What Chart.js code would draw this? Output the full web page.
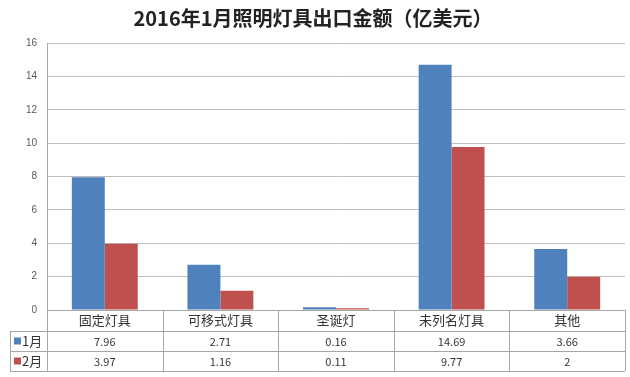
<!DOCTYPE html>
<html>
<head>
<meta charset="utf-8">
<script src="https://cdn.jsdelivr.net/npm/chart.js"></script>
<style>
  html, body { margin: 0; padding: 0; background: #fff; }
  #wrap { width: 630px; height: 377px; }
</style>
</head>
<body>
<div id="wrap"><canvas id="chart" width="630" height="377"></canvas></div>
<script>
const chartTitle = '2016年1月照明灯具出口金额（亿美元）';
const categories = ['固定灯具', '可移式灯具', '圣诞灯', '未列名灯具', '其他'];
const seriesNames = ['1月', '2月'];
const janValues = [7.96, 2.71, 0.16, 14.69, 3.66];
const febValues = [3.97, 1.16, 0.11, 9.77, 2];
const janLabels = ['7.96', '2.71', '0.16', '14.69', '3.66'];
const febLabels = ['3.97', '1.16', '0.11', '9.77', '2'];
const colors = ['#4F81BD', '#C0504D'];

const cjkFont = '"Noto Sans CJK SC", "Liberation Sans", sans-serif';

// title + data table under the plot, drawn from the x scale
const tablePlugin = {
    id: 'dataTable',
    afterDraw(chart) {
        const ctx = chart.ctx;
        const area = chart.chartArea;
        const x = chart.scales.x;
        const left = 10;
        const rowH = 20;
        const top = area.bottom;
        const y1 = top + 21;
        const y2 = y1 + rowH;
        const y3 = y2 + rowH;
        const step = (area.right - area.left) / categories.length;

        ctx.save();
        ctx.fillStyle = '#222';
        ctx.font = 'bold 20px ' + cjkFont;
        ctx.textAlign = 'center';
        ctx.textBaseline = 'middle';
        ctx.fillText(chartTitle, 313, 18);

        ctx.strokeStyle = '#a6a6a6';
        ctx.lineWidth = 1;
        ctx.beginPath();
        [y1, y2, y3].forEach(y => {
            ctx.moveTo(left, Math.round(y) + 0.5);
            ctx.lineTo(area.right, Math.round(y) + 0.5);
        });
        for (let i = 0; i <= categories.length; i++) {
            const vx = Math.round(area.left + i * step) + 0.5;
            ctx.moveTo(vx, top);
            ctx.lineTo(vx, y3);
        }
        ctx.moveTo(left + 0.5, y1);
        ctx.lineTo(left + 0.5, y3);
        ctx.stroke();

        ctx.fillStyle = '#333';
        ctx.font = '13px ' + cjkFont;
        categories.forEach((c, i) => {
            ctx.fillText(c, x.getPixelForValue(i), (top + y1) / 2);
        });
        ctx.font = '11px ' + cjkFont;
        janLabels.forEach((v, i) => ctx.fillText(v, x.getPixelForValue(i), (y1 + y2) / 2 + 1));
        febLabels.forEach((v, i) => ctx.fillText(v, x.getPixelForValue(i), (y2 + y3) / 2 + 1));

        [[y1, y2], [y2, y3]].forEach((r, k) => {
            const cy = (r[0] + r[1]) / 2;
            ctx.fillStyle = colors[k];
            ctx.fillRect(14, cy - 3.5, 7, 7);
            ctx.fillStyle = '#333';
            ctx.font = '13px ' + cjkFont;
            ctx.textAlign = 'left';
            ctx.fillText(seriesNames[k], 22, cy);
        });
        ctx.restore();
    }
};

new Chart(document.getElementById('chart'), {
    type: 'bar',
    data: {
        labels: categories,
        datasets: [
            { label: seriesNames[0], data: janValues, backgroundColor: colors[0] },
            { label: seriesNames[1], data: febValues, backgroundColor: colors[1] }
        ]
    },
    options: {
        responsive: false,
        animation: false,
        categoryPercentage: 0.57,
        barPercentage: 1.0,
        layout: { padding: { top: 43, bottom: 59, left: 0, right: 5 } },
        plugins: {
            legend: { display: false },
            title: { display: false },
            tooltip: { enabled: false }
        },
        scales: {
            x: {
                ticks: { display: false },
                grid: { display: false },
                border: { display: true, color: '#a6a6a6' }
            },
            y: {
                min: 0,
                max: 16,
                ticks: {
                    stepSize: 2,
                    color: '#595959',
                    font: { size: 10, family: '"Liberation Sans", sans-serif' },
                    padding: 10
                },
                grid: { color: '#bfbfbf', drawTicks: false },
                border: { display: true, color: '#a6a6a6' },
                afterFit(scale) { scale.width = 47; }
            }
        }
    },
    plugins: [tablePlugin]
});
</script>
</body>
</html>
